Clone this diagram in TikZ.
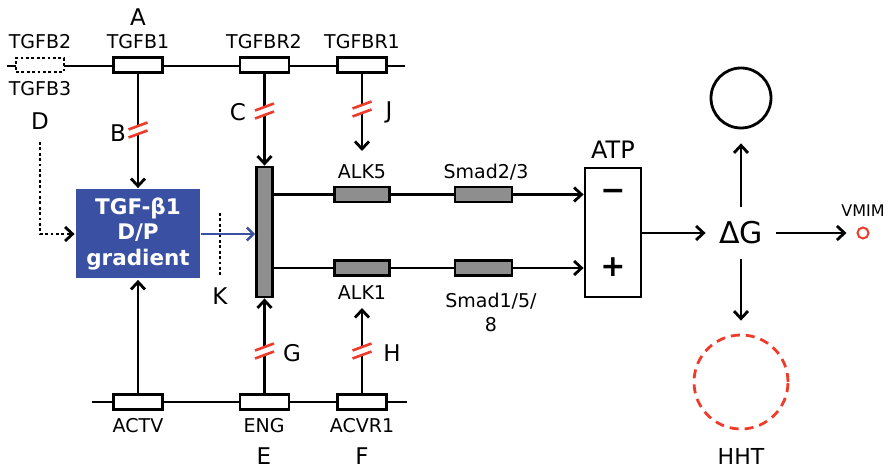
\documentclass[tikz,border=0pt]{standalone}
\usepackage{fontspec}
\setmainfont{DejaVu Sans}
\usetikzlibrary{arrows.meta,calc}
\definecolor{brk}{HTML}{EE3B2A}
\definecolor{gblue}{HTML}{3A51A3}
\definecolor{bargray}{HTML}{8E8E8E}
\newcommand\mybreak[1]{%
  \fill[white] ($(#1)+(-3.5,-3.5)$) rectangle ($(#1)+(3.5,3.5)$);
  \draw[brk, line width=2.6pt] ($(#1)+(-9.5,-0.5)$) -- ($(#1)+(9.5,-7.5)$) ($(#1)+(-9.5,7.5)$) -- ($(#1)+(9.5,0.5)$);}
\begin{document}
\begin{tikzpicture}[x=1pt,y=-1pt, line width=2.8pt,
  gene/.style={draw, fill=white, minimum width=49pt, minimum height=15pt, inner sep=0pt, line width=2.8pt},
  gbox/.style={gene, fill=bargray, minimum width=56pt},
  lab/.style={font=\fontsize{19}{21}\selectfont, inner sep=0pt},
  big/.style={font=\fontsize{23}{25}\selectfont, inner sep=0pt},
  arr/.style={-{Straight Barb[length=7.5pt,width=14pt,line width=2.8pt]}, line width=2.8pt},
  dotline/.style={dash pattern=on 2.8pt off 2.6pt},
]
\useasboundingbox (0,0) rectangle (895,470);

% ---- top gene line
\coordinate (tl) at (7,66);
\coordinate (tr) at (405,66);
\draw (tl) -- (tr);
\node[gene, dotline, minimum width=48pt, minimum height=14pt] (b23) at (40,65) {};
\node[gene] (tgfb1) at (138,65) {};
\node[gene] (tgfbr2) at (264.5,65) {};
\node[gene] (tgfbr1) at (362,65) {};
\node[lab] (lb2) at (40,42) {TGFB2};
\node[lab] (lb1) at (138,42) {TGFB1};
\node[lab] (lr2) at (264,42) {TGFBR2};
\node[lab] (lr1) at (362,42) {TGFBR1};
\node[lab] (lb3) at (40,89) {TGFB3};
\node[big] (lA) at (138,17) {A};
\node[big] (lD) at (40,121) {D};

% ---- bottom gene line
\coordinate (bl) at (92,402);
\coordinate (br) at (407,402);
\draw (bl) -- (br);
\node[gene] (actv) at (138,402) {};
\node[gene] (eng) at (264.5,402) {};
\node[gene] (acvr1) at (362,402) {};
\node[lab] (lactv) at (138,426) {ACTV};
\node[lab] (leng) at (264,426) {ENG};
\node[lab] (lacvr) at (362,426) {ACVR1};
\node[big] (lE) at (264,456) {E};
\node[big] (lF) at (362,456) {F};

% ---- gradient box and bar
\node[fill=gblue, minimum width=124pt, minimum height=89pt, inner sep=0pt, text=white,
      align=center, font=\bfseries\fontsize{21.5}{25.5}\selectfont] (grad) at (138,234) {TGF-β1\\D/P\\gradient};
\node[draw, fill=bargray, minimum width=16pt, minimum height=130pt, inner sep=0pt] (bar) at (264.5,232) {};

% ---- vertical connections
\draw[arr] (tgfb1.south) -- (grad.north);
\draw[arr] (actv.north) -- (grad.south);
\draw[arr] (tgfbr2.south) -- (bar.north);
\draw[arr] (eng.north) -- (bar.south);
\coordinate (jtip) at (362,151);
\coordinate (htip) at (362,308);
\draw[arr] (tgfbr1.south) -- (jtip);
\draw[arr] (acvr1.north) -- (htip);

\coordinate (bB) at (138,130);
\coordinate (bC) at (264.5,111);
\coordinate (bJ) at (362,109);
\coordinate (bG) at (264.5,351);
\coordinate (bH) at (362,351);
\mybreak{bB}
\mybreak{bC}
\mybreak{bJ}
\mybreak{bG}
\mybreak{bH}
\node[big] (lB) at (118,133) {B};
\node[big] (lC) at (238,112) {C};
\node[big] (lJ) at (389,112) {J};
\node[big] (lG) at (292,353) {G};
\node[big] (lH) at (392,353) {H};

% ---- D dotted arrow
\coordinate (d0) at (40,142);
\draw[arr, dotline] (d0) |- (grad.west);

% ---- blue arrow and K
\draw[-{Straight Barb[length=6.5pt,width=13pt,line width=2.4pt]}, gblue, line width=2.4pt] (grad.east) -- (grad.east -| bar.west);
\coordinate (k1) at (220,213);
\coordinate (k2) at (220,276);
\draw[dotline] (k1) -- (k2);
\node[big] (lK) at (220,296) {K};

% ---- ATP box
\node[draw, fill=white, minimum width=56pt, minimum height=129pt, inner sep=0pt] (atp) at (613,232.5) {};
\node[font=\fontsize{24}{26}\selectfont, inner sep=0pt] (latp) at (613,150) {ATP};
\node[font=\bfseries\fontsize{30}{30}\selectfont, inner sep=0pt] (minus) at (613,195) {−};
\node[font=\bfseries\fontsize{30}{30}\selectfont, inner sep=0pt] (plus) at (613,267) {+};

% ---- ALK / Smad lines
\coordinate (u0) at (273,194.5);
\coordinate (l0) at (273,268);
\node[gbox, minimum width=55pt] (alk5) at (362,194.5) {};
\node[gbox, minimum width=57pt] (smad23) at (483.5,194.5) {};
\node[gbox, minimum width=55pt] (alk1) at (362,268) {};
\node[gbox, minimum width=57pt] (smad158) at (483.5,268) {};
\draw (u0) -- (alk5.west) (alk5.east) -- (smad23.west);
\draw (l0) -- (alk1.west) (alk1.east) -- (smad158.west);
\draw[arr] (smad23.east) -- (smad23.east -| atp.west);
\draw[arr] (smad158.east) -- (smad158.east -| atp.west);
\node[lab] (lalk5) at (362,172) {ALK5};
\node[lab] (lalk1) at (362,293) {ALK1};
\node[lab] (ls23) at (486,172) {Smad2/3};
\node[lab, align=center, font=\fontsize{19}{24}\selectfont] (ls158) at (491,312) {Smad1/5/\\8};

% ---- Delta G and outcomes
\node[font=\fontsize{30}{32}\selectfont, minimum width=68pt, minimum height=50pt, inner sep=0pt] (dG) at (741,233) {ΔG};
\draw[arr] (atp.east |- dG.west) -- (dG.west);
\node[draw, circle, minimum size=60pt, inner sep=0pt] (circ) at (741,98) {};
\draw[arr, shorten >=14pt] (dG.north) -- (circ.south);
\node[draw=brk, circle, minimum size=11pt, inner sep=0pt, line width=2pt] (vm) at (863,233) {};
\node[font=\fontsize{16}{18}\selectfont, inner sep=0pt] (lvm) at (863,211) {VMIM};
\draw[arr, shorten >=10pt] (dG.east) -- (vm.west);
\node[draw=brk, circle, minimum size=94pt, inner sep=0pt, line width=2.8pt, dash pattern=on 9pt off 6pt] (hht) at (741,382) {};
\draw[arr, shorten >=13pt] (dG.south) -- (hht.north);
\node[font=\fontsize{22}{24}\selectfont, inner sep=0pt] (lhht) at (741,456) {HHT};
\end{tikzpicture}
\end{document}
